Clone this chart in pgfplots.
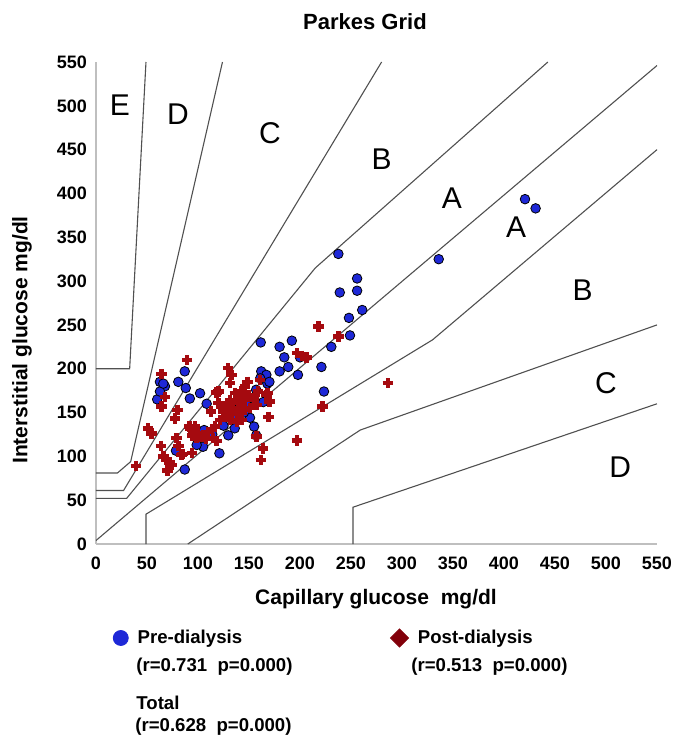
\documentclass[border=0pt]{standalone}
\usepackage{pgfplots}
\pgfplotsset{compat=1.18}
\usepackage{fontspec}
\setmainfont{Liberation Sans}
\definecolor{preblue}{RGB}{30,40,215}
\definecolor{postred}{RGB}{165,10,15}
\definecolor{legred}{RGB}{130,0,10}
\definecolor{zonegray}{RGB}{80,80,80}
\newcommand{\tickfont}{\bfseries\fontsize{9}{10}\selectfont}
\newcommand{\labfont}{\bfseries\fontsize{10.5}{12}\selectfont}
\newcommand{\legfont}{\bfseries\fontsize{9.3}{11}\selectfont}
\newcommand{\zonefont}{\fontsize{15}{17}\selectfont}
\begin{document}
\begin{tikzpicture}
\begin{axis}[
  scale only axis, width=280.5pt, height=241pt,
  xmin=0, xmax=550, ymin=0, ymax=550,
  xtick={0,50,...,550}, ytick={0,50,...,550},
  axis x line*=bottom, axis y line*=left,
  axis line style={draw=black!25, line width=0.6pt},
  major tick length=0pt,
  /pgf/number format/assume math mode=true,
  tick label style={font=\tickfont},
  xticklabel style={yshift=-3pt},
  yticklabel style={xshift=-1pt},
  clip=false,
  legend columns=2,
  legend style={draw=none, fill=none, inner sep=0pt, row sep=0pt,
    at={(axis description cs:0.0294,-0.195)}, anchor=west,
    font=\legfont, nodes={inner sep=0pt},
    /tikz/every odd column/.append style={column sep=4.5pt},
    /tikz/every even column/.append style={column sep=74pt}},
  zone/.style={zonegray, line width=0.55pt, no marks},
]
\coordinate (sw) at (rel axis cs:0,0);
% zone boundaries
\addplot[zone, forget plot] coordinates {(0,200) (33,200) (49,550)};
\addplot[zone, forget plot] coordinates {(0,81) (21,81) (34,94) (124,550)};
\addplot[zone, forget plot] coordinates {(0,61) (27,61) (280,550)};
\addplot[zone, forget plot] coordinates {(0,52) (30,52) (215,315) (443,550)};
\addplot[zone, forget plot] coordinates {(0,4) (550,546)};
\addplot[zone, forget plot] coordinates {(49,0) (49,34) (330,233) (550,450)};
\addplot[zone, forget plot] coordinates {(90,0) (259,130) (550,250)};
\addplot[zone, forget plot] coordinates {(252,0) (252,42) (550,160)};
% zone letters
\node[font=\zonefont] at (axis cs:23.5,501) {E};
\node[font=\zonefont] at (axis cs:80.4,490) {D};
\node[font=\zonefont] at (axis cs:170.6,469) {C};
\node[font=\zonefont] at (axis cs:280,439) {B};
\node[font=\zonefont] at (axis cs:349,395) {A};
\node[font=\zonefont] at (axis cs:412,362) {A};
\node[font=\zonefont] at (axis cs:477,290) {B};
\node[font=\zonefont] at (axis cs:500,184) {C};
\node[font=\zonefont] at (axis cs:514,88) {D};
% pre-dialysis
\addplot[forget plot, only marks, mark=*, mark size=2.4pt, mark options={draw=none, fill=preblue}] table {
x y
420.6 393.5
431 383
336 325
237.6 331
256 303
239 287
256 289
261 267
248 258
249 238
230.7 225
221 202
223.5 174
192 232
180 225
161.5 230
184.6 213
188.5 202
198 193
180 197
162 197
167 193
168 183
161 189
157 176
151 166
164 162
151 144
155 134
157 124
136 155
136 145
136 132
129.7 124
121 103.5
141 157
108.5 160
102 172
92 166
87 197
80.7 185
88 178
62.7 185
67.6 180
60 165
62.7 174
106 130
105 111
98.7 113
78.4 106.5
87 85
145 150
148 158
125 135
170 185
200 213
66 183
114 125
};
% post-dialysis
\addplot[forget plot, only marks, mark=+, mark size=2.6pt, mark options={line width=2.2pt, postred}] table {
x y
89.5 210
64.4 194
67.6 168
64.4 157
80 153
77.5 143
51 132
54.6 126
63.7 112
79 121
80.7 112
66 100
72.5 93
70 84
39 89
85 103
94 104
92 132
94.8 124
100 126
98.7 121
105 124
114 131
116.7 134
115 121
118 117.6
113 151
118 173
129.7 200.5
133 193
131.4 184
149 185
146 179.7
142.8 174
160.8 187
167 170
170 162.4
169 145
157.5 122.5
164 109
161.5 96
120 174
123 157
125 151
131.4 164
134.6 160.6
128 157
133 149
139.5 155
138 164
142.8 160.6
146 153
151 155
142.8 141.5
138 139.6
131.4 141.5
121.6 141.5
120 160.6
136 172
157.5 158.7
159 174
148 185
168 172
197 118
197 218
201.7 214.6
206.5 212.7
218 248
237.6 236.7
222 157
286 183.4
103.6 122.5
97 134
91.5 134
84 101.6
69 96
74 90
130 150
140 150
145 165
127 145
150 170
155 165
110 128
108 120
};
\addlegendimage{legend image code/.code={\fill[preblue] (0pt,0pt) circle[radius=3.75pt];}}
\addlegendentry{Pre-dialysis}
\addlegendimage{legend image code/.code={\fill[legred] (0pt,4.5pt) -- (4.5pt,0pt) -- (0pt,-4.5pt) -- (-4.5pt,0pt) -- cycle;}}
\addlegendentry{Post-dialysis}
\end{axis}
\node[font=\bfseries\fontsize{11}{13}\selectfont] at ([xshift=134.5pt, yshift=261pt]sw) {Parkes Grid};
\node[font=\labfont] at ([xshift=140pt, yshift=-27.5pt]sw) {Capillary glucose\ \ mg/dl};
\node[font=\labfont, rotate=90] at ([xshift=-37pt, yshift=102pt]sw) {Interstitial glucose mg/dl};
\node[font=\legfont, anchor=west, inner sep=0pt] at ([xshift=20pt, yshift=-61.5pt]sw) {(r=0.731\ \ p=0.000)};
\node[font=\legfont, anchor=west, inner sep=0pt] at ([xshift=157.5pt, yshift=-61.5pt]sw) {(r=0.513\ \ p=0.000)};
\node[font=\legfont, anchor=west, inner sep=0pt] at ([xshift=20pt, yshift=-79.5pt]sw) {Total};
\node[font=\legfont, anchor=west, inner sep=0pt] at ([xshift=19.5pt, yshift=-91.5pt]sw) {(r=0.628\ \ p=0.000)};
\pgfresetboundingbox
\path[use as bounding box] ([xshift=-48pt, yshift=-103pt]sw) rectangle ++(342.5pt,375pt);
\end{tikzpicture}
\end{document}
